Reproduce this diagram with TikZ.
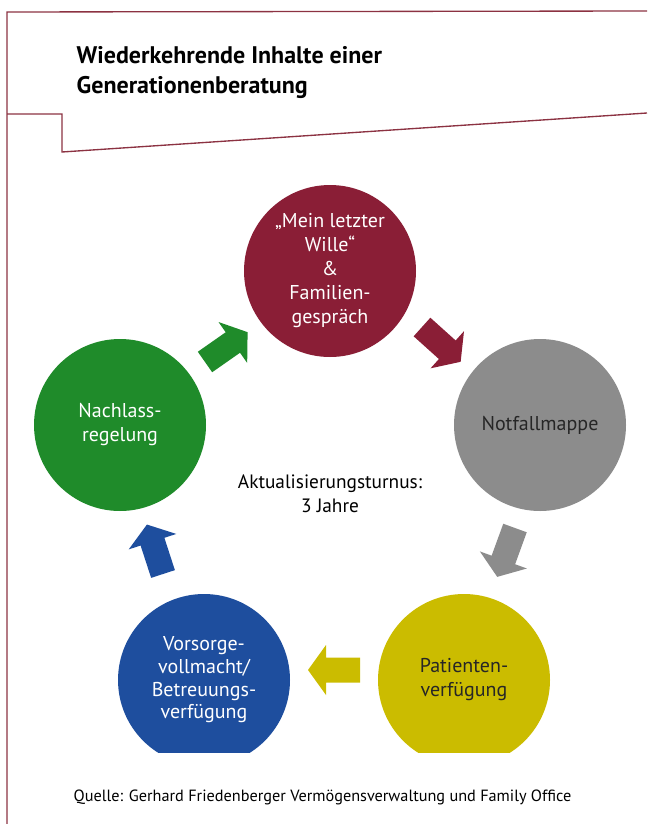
\documentclass[tikz,border=0pt]{standalone}
\usepackage{fontspec}
\setmainfont{PT Sans}
\definecolor{kreisrot}{RGB}{138,30,54}
\definecolor{kreisgrau}{RGB}{140,140,140}
\definecolor{kreisgelb}{RGB}{203,188,0}
\definecolor{kreisblau}{RGB}{30,78,158}
\definecolor{kreisgruen}{RGB}{31,139,42}
\definecolor{rahmenrot}{RGB}{140,50,66}
\newcommand\kreispfeil[4]{%
\fill[#4,shift={(#1,#2)},rotate=#3] (0,-12.5)--(34,-12.5)--(34,-25)--(52,0)--(34,25)--(34,12.5)--(0,12.5)--cycle;}
\begin{document}
\begin{tikzpicture}[x=0.75pt,y=-0.75pt,
rahmen/.style={draw=rahmenrot,line width=1pt},
kreis/.style={circle,minimum size=129pt,inner sep=0pt,align=center,text=white,font=\fontsize{15}{18}\selectfont}]
\useasboundingbox (0,0) rectangle (647,824);
\draw[rahmen] (647,11)--(7,12)--(7,824);
\draw[rahmen] (7,114)--(62,114)--(62,152)--(647,113);
\node[anchor=west,align=left,font=\bfseries\fontsize{18}{22.5}\selectfont] (titel) at (72,73) {Wiederkehrende Inhalte einer\\Generationenberatung};
\begin{scope}
\clip (0,0) rectangle (647,752);
\node[kreis,fill=kreisrot] (wille) at (330,271) {„Mein letzter\\Wille“\\\&\\Familien-\\gespräch};
\node[kreis,fill=kreisgrau,text=black!85] (notfall) at (540,425) {Notfallmappe};
\node[kreis,fill=kreisgelb,text=black!85] (patient) at (464,680) {Patienten-\\verfügung};
\node[kreis,fill=kreisblau,font=\fontsize{15}{17}\selectfont] (vorsorge) at (204,680) {Vorsorge-\\vollmacht/\\Betreuungs-\\verfügung};
\node[kreis,fill=kreisgruen] (nachlass) at (120,425) {Nachlass-\\regelung};
\end{scope}
\kreispfeil{205}{362}{35}{kreisgruen}
\kreispfeil{422}{327}{-42}{kreisrot}
\kreispfeil{515}{528}{-110}{kreisgrau}
\kreispfeil{360}{670}{180}{kreisgelb}
\kreispfeil{163}{574}{108}{kreisblau}
\node[align=center,font=\fontsize{14.5}{18}\selectfont] (turnus) at (330,494) {Aktualisierungsturnus:\\3 Jahre};
\node[anchor=west,font=\fontsize{12.2}{14}\selectfont] (quelle) at (69,797) {Quelle: Gerhard Friedenberger Vermögensverwaltung und Family Office};
\end{tikzpicture}
\end{document}
